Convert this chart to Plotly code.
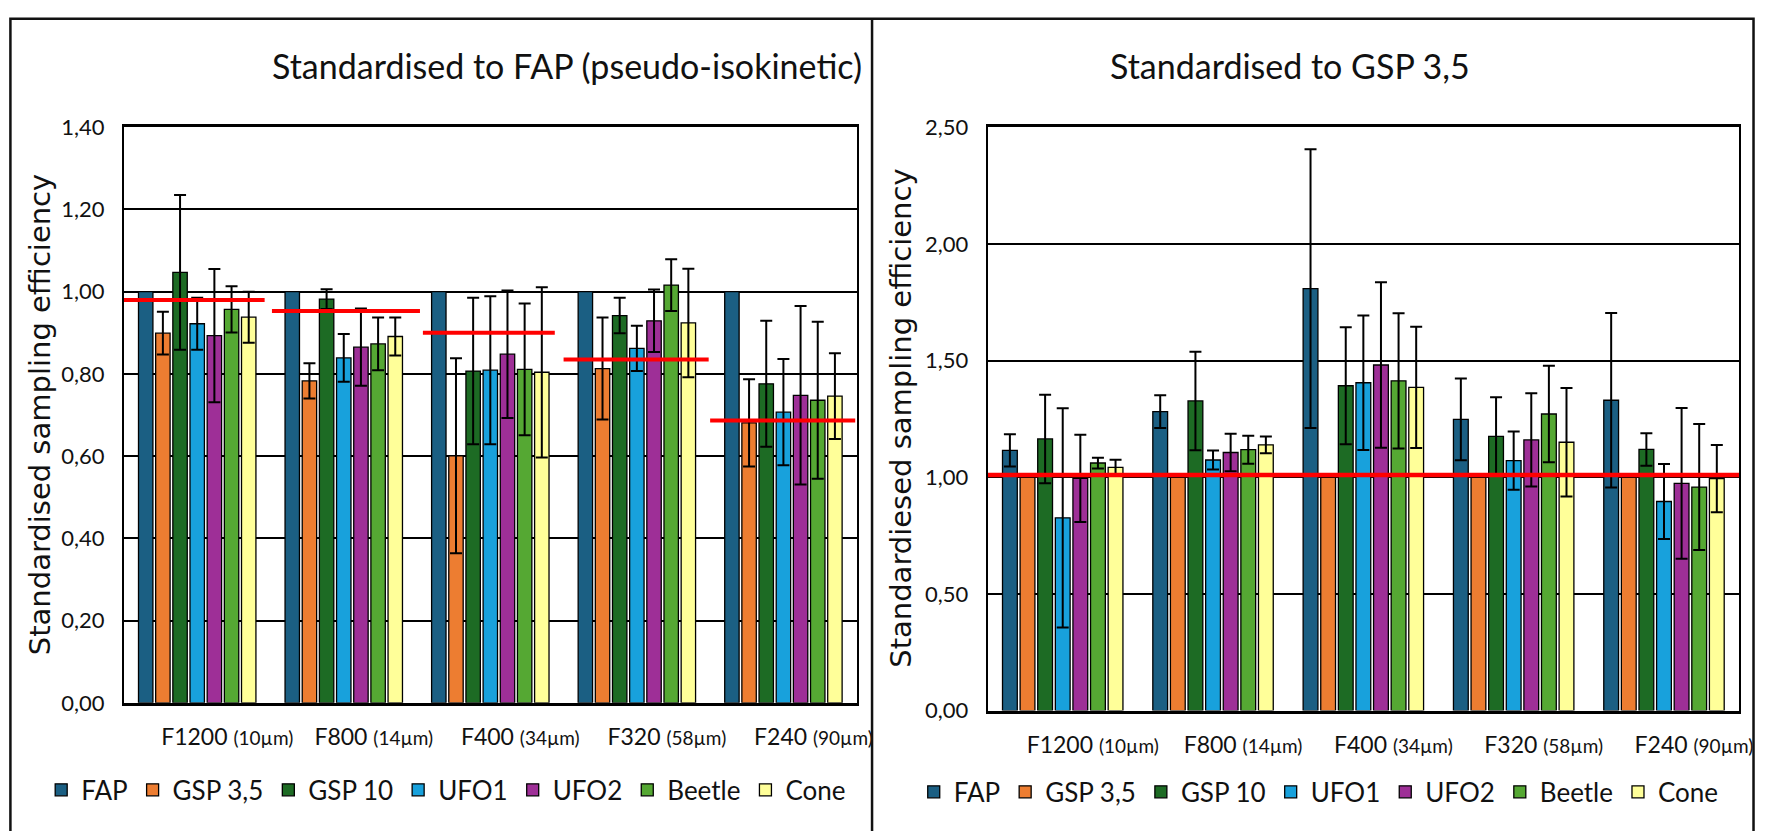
import plotly.graph_objects as go

W, H = 1771, 831

groups = ["F1200", "F800", "F400", "F320", "F240"]
sizes = ["(10µm)", "(14µm)", "(34µm)", "(58µm)", "(90µm)"]
series = ["FAP", "GSP 3,5", "GSP 10", "UFO1", "UFO2", "Beetle", "Cone"]
colors = ["#1b5f83", "#ed7d31", "#1d6b24", "#18a1dc", "#9e2f97", "#55a833", "#ffff99"]

# Left chart: standardised to FAP
fap_L = [1.00, 1.00, 1.00, 1.00, 1.00]
gsp35_L = [0.899, 0.783, 0.601, 0.813, 0.681]
gsp10_L = [1.047, 0.982, 0.807, 0.942, 0.776]
ufo1_L = [0.922, 0.839, 0.809, 0.862, 0.707]
ufo2_L = [0.893, 0.865, 0.848, 0.929, 0.748]
beetle_L = [0.957, 0.873, 0.811, 1.016, 0.736]
cone_L = [0.938, 0.891, 0.804, 0.924, 0.746]

fap_L_err = None
gsp35_L_err = [0.052, 0.043, 0.237, 0.124, 0.106]
gsp10_L_err = [0.188, 0.024, 0.178, 0.043, 0.153]
ufo1_L_err = [0.063, 0.058, 0.180, 0.055, 0.129]
ufo2_L_err = [0.162, 0.094, 0.155, 0.076, 0.217]
beetle_L_err = [0.056, 0.064, 0.160, 0.063, 0.191]
cone_L_err = [0.062, 0.046, 0.207, 0.132, 0.104]

ref_L = [0.980, 0.953, 0.900, 0.835, 0.687]

# Right chart: standardised to GSP 3,5
fap_R = [1.115, 1.281, 1.808, 1.248, 1.330]
gsp35_R = [1.00, 1.00, 1.00, 1.00, 1.00]
gsp10_R = [1.164, 1.327, 1.392, 1.175, 1.119]
ufo1_R = [0.826, 1.074, 1.405, 1.071, 0.896]
ufo2_R = [0.995, 1.106, 1.481, 1.160, 0.974]
beetle_R = [1.061, 1.118, 1.413, 1.271, 0.958]
cone_R = [1.042, 1.139, 1.385, 1.150, 0.994]

fap_R_err = [0.069, 0.070, 0.597, 0.175, 0.374]
gsp35_R_err = None
gsp10_R_err = [0.190, 0.211, 0.251, 0.168, 0.070]
ufo1_R_err = [0.470, 0.041, 0.288, 0.125, 0.161]
ufo2_R_err = [0.187, 0.080, 0.355, 0.200, 0.323]
beetle_R_err = [0.023, 0.060, 0.290, 0.207, 0.270]
cone_R_err = [0.033, 0.036, 0.260, 0.232, 0.144]

ref_R = 1.01

left_vals = [fap_L, gsp35_L, gsp10_L, ufo1_L, ufo2_L, beetle_L, cone_L]
left_errs = [fap_L_err, gsp35_L_err, gsp10_L_err, ufo1_L_err, ufo2_L_err, beetle_L_err, cone_L_err]
right_vals = [fap_R, gsp35_R, gsp10_R, ufo1_R, ufo2_R, beetle_R, cone_R]
right_errs = [fap_R_err, gsp35_R_err, gsp10_R_err, ufo1_R_err, ufo2_R_err, beetle_R_err, cone_R_err]

xpos = list(range(len(groups)))
ticktext = [f"{g} <span style='font-size:19px'>{s}</span>" for g, s in zip(groups, sizes)]

FONT = "Lato, 'Open Sans', sans-serif"

fig = go.Figure()

def add_bars(vals, errs, xa, ya, legend):
    for name, v, e, c in zip(series, vals, errs, colors):
        err = dict(type="data", array=e, visible=True, color="black", thickness=2, width=6) if e else dict(visible=False)
        fig.add_trace(go.Bar(
            x=xpos, y=v, name=name, xaxis=xa, yaxis=ya, legend=legend,
            marker=dict(color=c, line=dict(color="black", width=1.3)),
            error_y=err,
        ))

add_bars(left_vals, left_errs, "x", "y", "legend")
add_bars(right_vals, right_errs, "x2", "y2", "legend2")

# red reference lines (hand-drawn segments in the original)
seg_start = [-0.54, -0.49, -0.46, -0.50, -0.50]
seg_end = [0.46, 0.52, 0.44, 0.49, 0.49]
rx, ry = [], []
for i, lvl in enumerate(ref_L):
    rx += [i + seg_start[i], i + seg_end[i], None]
    ry += [lvl, lvl, None]
fig.add_trace(go.Scatter(x=rx, y=ry, mode="lines", line=dict(color="#ff0000", width=4),
                         xaxis="x", yaxis="y", showlegend=False, hoverinfo="skip"))
fig.add_trace(go.Scatter(x=[-0.5, len(groups) - 0.5], y=[ref_R, ref_R], mode="lines",
                         line=dict(color="#ff0000", width=4.5),
                         xaxis="x2", yaxis="y2", showlegend=False, hoverinfo="skip"))

xcommon = dict(
    range=[-0.5, len(groups) - 0.5], tickvals=xpos, ticktext=ticktext,
    showline=True, linecolor="black", linewidth=2.5, mirror=True,
    showgrid=False, zeroline=False, ticks="", ticklabelstandoff=12, ticklabelshift=30,
    tickfont=dict(family=FONT, size=23, color="#111"), fixedrange=True,
)
ycommon = dict(
    showline=True, linecolor="black", linewidth=2, mirror=True,
    showgrid=True, gridcolor="black", gridwidth=2, zeroline=False, ticks="",
    tickformat=".2f", ticklabelstandoff=13,
    tickfont=dict(family=FONT, size=22, color="#111"), fixedrange=True,
)

fig.update_layout(
    width=W, height=H,
    margin=dict(l=0, r=0, t=0, b=0),
    paper_bgcolor="white", plot_bgcolor="white",
    separators=", ",
    barmode="group", bargap=0.18, bargroupgap=0.16,
    xaxis=dict(domain=[125 / W, 864 / W], anchor="y", **xcommon),
    yaxis=dict(domain=[1 - 712 / H, 1 - 117 / H], anchor="x", range=[0, 1.40], dtick=0.2, **ycommon),
    xaxis2=dict(domain=[996 / W, 1754 / W], anchor="y2", **xcommon),
    yaxis2=dict(domain=[1 - 720 / H, 1 - 117 / H], anchor="x2", range=[0, 2.50], dtick=0.5, **ycommon),
    legend=dict(orientation="h", x=450 / W, xanchor="center", y=1 - 802 / H, yanchor="middle",
                font=dict(family=FONT, size=26, color="#111"), traceorder="normal",
                bgcolor="rgba(0,0,0,0)"),
    legend2=dict(orientation="h", x=1330 / W, xanchor="center", y=1 - 804 / H, yanchor="middle",
                 font=dict(family=FONT, size=26, color="#111"), traceorder="normal",
                 bgcolor="rgba(0,0,0,0)"),
    showlegend=True,
)

annotations = [
    dict(text="Standardised to FAP (pseudo-isokinetic)", x=572 / W, y=1 - 53 / H,
         font=dict(family=FONT, size=34, color="#111")),
    dict(text="Standardised to GSP 3,5", x=1301 / W, y=1 - 53 / H,
         font=dict(family=FONT, size=34, color="#111")),
    dict(text="Standardised sampling efficiency", x=40 / W, y=1 - 414 / H, textangle=-90,
         font=dict(family="DejaVu Sans", size=29, color="#111")),
    dict(text="Standardiesed sampling efficiency", x=909 / W, y=1 - 418 / H, textangle=-90,
         font=dict(family="DejaVu Sans", size=29, color="#111")),
]
for a in annotations:
    a.update(xref="paper", yref="paper", xanchor="center", yanchor="middle", showarrow=False)
fig.update_layout(annotations=annotations)

# panel frames
fig.update_layout(shapes=[
    dict(type="rect", xref="paper", yref="paper", x0=10.5 / W, x1=1768.5 / W, y0=-0.02, y1=1 - 5 / H,
         line=dict(color="#111", width=2.5), layer="above"),
    dict(type="line", xref="paper", yref="paper", x0=879.5 / W, x1=879.5 / W, y0=-0.02, y1=1 - 5 / H,
         line=dict(color="#111", width=2.5), layer="above"),
])

fig.write_html("out.html")
